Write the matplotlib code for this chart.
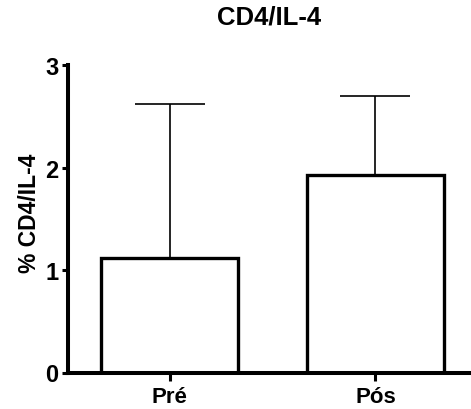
import matplotlib
matplotlib.use('Agg')
import matplotlib.pyplot as plt
import numpy as np

plt.rcParams['font.family'] = ['Liberation Sans', 'DejaVu Sans']
plt.rcParams['font.weight'] = 'bold'

# data
groups = ['Pré', 'Pós']
means = [1.115, 1.925]
sd_upper = [1.505, 0.775]
yticks = [0, 1, 2, 3]

fig = plt.figure(figsize=(4.71, 4.10), dpi=100)
ax = fig.add_axes([68 / 471, 1 - 373.5 / 410, 1 - 68 / 471, 307.5 / 410])

x = np.arange(len(groups))
ax.bar(x, means, width=0.667, color='white', edgecolor='black', linewidth=2.4, zorder=2)
ax.errorbar(x, means, yerr=[np.zeros(len(groups)), sd_upper], fmt='none',
            ecolor='black', elinewidth=1.2, capsize=25, capthick=1.2, zorder=1)

ax.set_xlim(-0.496, 1.465)
ax.set_ylim(0, 3)
ax.set_xticks(x)
ax.set_xticklabels(groups, fontsize=16, fontweight='bold')
ax.set_yticks(yticks)
ax.set_yticklabels([str(t) for t in yticks], fontsize=17, fontweight='bold')

for s in ['top', 'right']:
    ax.spines[s].set_visible(False)
for s in ['left', 'bottom']:
    ax.spines[s].set_linewidth(2.9)

ax.tick_params(axis='x', length=6, width=2.2, pad=4)
ax.tick_params(axis='y', length=4, width=2.2, pad=3)

ax.set_ylabel('% CD4/IL-4', fontsize=16.5, fontweight='bold')
ax.yaxis.set_label_coords(-0.066, 0.52)
ax.set_title('CD4/IL-4', fontsize=18.5, fontweight='bold', pad=30)

fig.savefig('out.png', dpi=100)
